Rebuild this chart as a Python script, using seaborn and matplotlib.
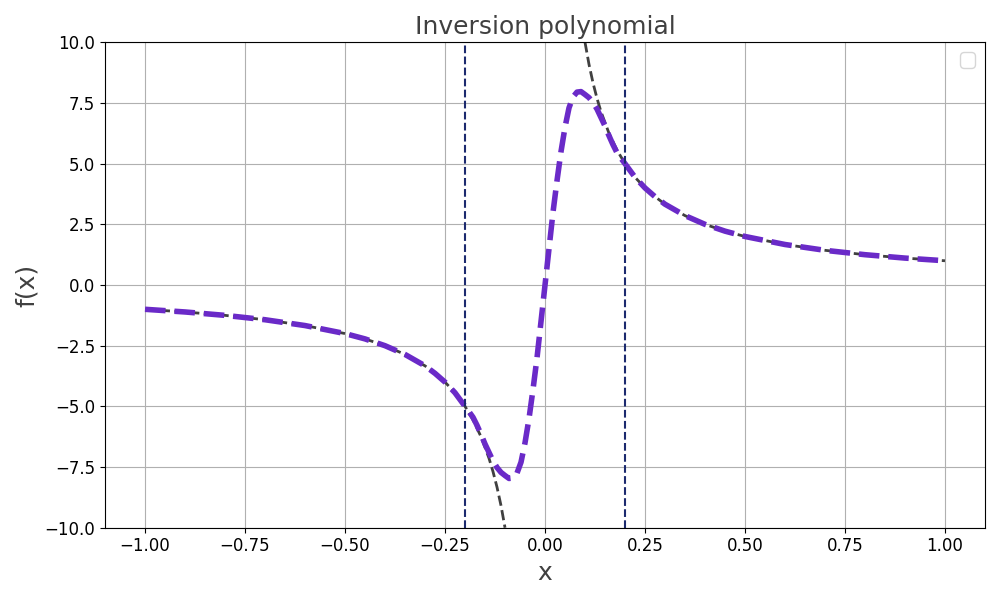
import numpy as np
import pandas as pd
import matplotlib
matplotlib.use('Agg')
import matplotlib.pyplot as plt
import seaborn as sns

# --- data ---
# reference curve f(x) = 1/x, left and right branches
ref_x_left = [-1.0, -0.9, -0.8, -0.7, -0.6, -0.5, -0.45, -0.4, -0.35, -0.3,
              -0.275, -0.25, -0.225, -0.2, -0.18, -0.16, -0.14, -0.13, -0.12, -0.11, -0.1]
ref_y_left = [-1.0, -1.11, -1.25, -1.43, -1.67, -2.0, -2.22, -2.5, -2.86, -3.33,
              -3.64, -4.0, -4.44, -5.0, -5.56, -6.25, -7.14, -7.69, -8.33, -9.09, -10.0]
ref_x_right = [-v for v in ref_x_left][::-1]
ref_y_right = [-v for v in ref_y_left][::-1]

# inner polynomial between -0.2 and 0.2 (positive half, curve is odd)
poly_x_pos = [0.0, 0.01, 0.02, 0.03, 0.04, 0.05, 0.06, 0.07, 0.08, 0.09, 0.10,
              0.11, 0.12, 0.13, 0.14, 0.15, 0.16, 0.17, 0.18, 0.19]
poly_y_pos = [0.0, 1.5, 3.0, 4.3, 5.5, 6.5, 7.3, 7.75, 7.95, 7.97, 7.85,
              7.72, 7.52, 7.25, 6.9, 6.55, 6.15, 5.78, 5.45, 5.22]

outer_x_left = ref_x_left[:14]
outer_y_left = ref_y_left[:14]

inv_x = (outer_x_left
         + [-v for v in poly_x_pos[1:]][::-1] + poly_x_pos
         + [-v for v in outer_x_left][::-1])
inv_y = (outer_y_left
         + [-v for v in poly_y_pos[1:]][::-1] + poly_y_pos
         + [-v for v in outer_y_left][::-1])

bounds = [-0.2, 0.2]

fig, ax = plt.subplots(figsize=(10, 6), dpi=100)

ref_color = '#404040'
sns.lineplot(x=ref_x_left, y=ref_y_left, ax=ax, color=ref_color, linestyle='--',
             linewidth=2, estimator=None, sort=False)
sns.lineplot(x=ref_x_right, y=ref_y_right, ax=ax, color=ref_color, linestyle='--',
             linewidth=2, estimator=None, sort=False)
sns.lineplot(x=inv_x, y=inv_y, ax=ax, color='#6a2ac8', linestyle='--',
             linewidth=4, estimator=None, sort=False)

for b in bounds:
    ax.axvline(b, color='#1c2a6e', linestyle='--', linewidth=1.5)

ax.set_ylim(-10, 10)
ax.set_xlim(-1.1, 1.1)
ax.set_xticks([-1.0, -0.75, -0.5, -0.25, 0.0, 0.25, 0.5, 0.75, 1.0])
ax.grid(True)
ax.tick_params(labelsize=12)
ax.set_title('Inversion polynomial', fontsize=18, color=ref_color)
ax.set_xlabel('x', fontsize=18, color=ref_color)
ax.set_ylabel('f(x)', fontsize=18, color=ref_color)
ax.legend(fontsize=14)

plt.tight_layout()
plt.savefig('out.png')
plt.close()
